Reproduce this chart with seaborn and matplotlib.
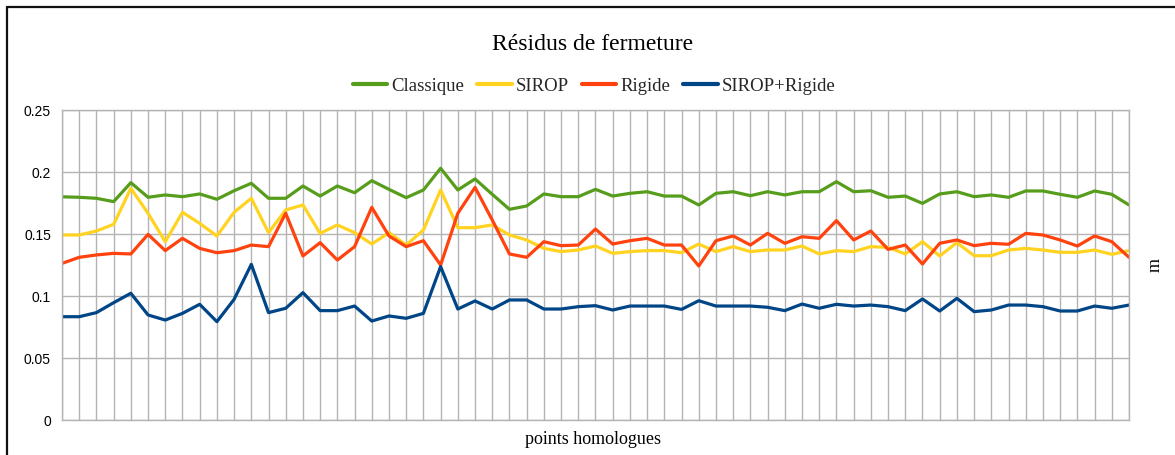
import numpy as np
import pandas as pd
import matplotlib
matplotlib.use("Agg")
import matplotlib.pyplot as plt
from matplotlib.lines import Line2D
import seaborn as sns

# Closure residuals (m) for each homologous point, per adjustment method
classique = [0.1800, 0.1796, 0.1788, 0.1761, 0.1914, 0.1796, 0.1815, 0.1801, 0.1823, 0.1780,
             0.1849, 0.1909, 0.1788, 0.1788, 0.1887, 0.1806, 0.1887, 0.1833, 0.1930, 0.1860,
             0.1793, 0.1855, 0.2030, 0.1855, 0.1944, 0.1820, 0.1699, 0.1726, 0.1823, 0.1801,
             0.1801, 0.1860, 0.1806, 0.1828, 0.1841, 0.1806, 0.1806, 0.1734, 0.1828, 0.1841,
             0.1809, 0.1841, 0.1815, 0.1841, 0.1841, 0.1922, 0.1841, 0.1849, 0.1796, 0.1806,
             0.1747, 0.1823, 0.1841, 0.1801, 0.1815, 0.1796, 0.1847, 0.1847, 0.1820, 0.1796,
             0.1847, 0.1820, 0.1734]
sirop = [0.1492, 0.1492, 0.1524, 0.1578, 0.1868, 0.1667, 0.1438, 0.1675, 0.1586, 0.1484,
         0.1675, 0.1788, 0.1511, 0.1694, 0.1734, 0.1505, 0.1573, 0.1511, 0.1419, 0.1511,
         0.1411, 0.1532, 0.1855, 0.1551, 0.1551, 0.1573, 0.1492, 0.1452, 0.1384, 0.1358,
         0.1371, 0.1403, 0.1344, 0.1358, 0.1366, 0.1366, 0.1349, 0.1419, 0.1358, 0.1398,
         0.1358, 0.1371, 0.1371, 0.1403, 0.1339, 0.1366, 0.1358, 0.1398, 0.1392, 0.1339,
         0.1438, 0.1323, 0.1430, 0.1325, 0.1325, 0.1371, 0.1384, 0.1371, 0.1352, 0.1352,
         0.1371, 0.1336, 0.1366]
rigide = [0.1263, 0.1312, 0.1331, 0.1344, 0.1339, 0.1497, 0.1366, 0.1465, 0.1384, 0.1349,
          0.1366, 0.1411, 0.1398, 0.1667, 0.1323, 0.1430, 0.1290, 0.1398, 0.1715, 0.1484,
          0.1398, 0.1446, 0.1250, 0.1667, 0.1876, 0.1613, 0.1339, 0.1312, 0.1438, 0.1406,
          0.1411, 0.1540, 0.1419, 0.1446, 0.1465, 0.1411, 0.1411, 0.1242, 0.1446, 0.1484,
          0.1411, 0.1505, 0.1425, 0.1478, 0.1465, 0.1608, 0.1452, 0.1524, 0.1376, 0.1411,
          0.1258, 0.1425, 0.1452, 0.1406, 0.1425, 0.1417, 0.1505, 0.1492, 0.1452, 0.1403,
          0.1484, 0.1438, 0.1312]
sirop_rigide = [0.0833, 0.0833, 0.0866, 0.0946, 0.1022, 0.0847, 0.0806, 0.0860, 0.0933, 0.0793,
                0.0973, 0.1255, 0.0866, 0.0901, 0.1027, 0.0882, 0.0882, 0.0919, 0.0798, 0.0839,
                0.0820, 0.0860, 0.1237, 0.0895, 0.0960, 0.0895, 0.0968, 0.0968, 0.0895, 0.0895,
                0.0914, 0.0922, 0.0887, 0.0919, 0.0919, 0.0919, 0.0892, 0.0962, 0.0919, 0.0919,
                0.0919, 0.0909, 0.0882, 0.0935, 0.0901, 0.0933, 0.0919, 0.0927, 0.0914, 0.0882,
                0.0976, 0.0879, 0.0981, 0.0874, 0.0887, 0.0927, 0.0927, 0.0914, 0.0879, 0.0879,
                0.0919, 0.0901, 0.0927]

series_names = ["Classique", "SIROP", "Rigide", "SIROP+Rigide"]
series_values = [classique, sirop, rigide, sirop_rigide]
colors = ["#579d1c", "#ffd320", "#ff420e", "#004586"]
y_ticks = [0, 0.05, 0.1, 0.15, 0.2, 0.25]
y_tick_labels = ["0", "0.05", "0.1", "0.15", "0.2", "0.25"]

n_points = len(classique)
frames = []
for name, vals in zip(series_names, series_values):
    frames.append(pd.DataFrame({"point": np.arange(n_points), "residu": vals, "methode": name}))
df = pd.concat(frames, ignore_index=True)

sns.set_theme(style="white")
plt.rcParams["font.family"] = ["Liberation Serif", "DejaVu Serif"]

fig = plt.figure(figsize=(11.75, 4.55), dpi=100)
ax = fig.add_axes([62 / 1175, 1 - 420 / 455, (1129 - 62) / 1175, (420 - 110) / 455])

sns.lineplot(data=df, x="point", y="residu", hue="methode", hue_order=series_names,
             palette=colors, linewidth=2.3, ax=ax, legend=False, sort=False)

grid_c = "#b3b3b3"
ax.set_xlim(0, n_points - 1)
ax.set_ylim(0, 0.25)
ax.set_xticks(np.arange(n_points))
ax.set_xticklabels([])
ax.set_yticks(y_ticks)
ax.set_yticklabels(y_tick_labels, fontfamily="Liberation Sans", fontsize=10)
ax.grid(True, color=grid_c, linewidth=1.0)
ax.set_axisbelow(True)
for sp in ax.spines.values():
    sp.set_color(grid_c)
    sp.set_linewidth(1.0)
ax.tick_params(axis="both", which="both", direction="out", length=5, width=1.0,
               color=grid_c, pad=3, labelcolor="#000000")
ax.tick_params(axis="x", length=6, pad=0)

ax.set_xlabel("")
ax.set_ylabel("")
fig.text(593 / 1175, 1 - 440 / 455, "points homologues", fontsize=13,
         ha="center", va="center", color="black")
fig.text(1155 / 1175, 1 - 265 / 455, "m", rotation=90, fontsize=13,
         ha="center", va="center", color="black")

fig.text(593 / 1175, 1 - 45 / 455, "Résidus de fermeture", fontsize=17,
         ha="center", va="center", color="black")

handles = [Line2D([0], [0], color=c, linewidth=3) for c in colors]
fig.legend(handles, series_names, loc="center", bbox_to_anchor=(594 / 1175, 1 - 86 / 455),
           ncol=4, frameon=False, fontsize=13.5, handlelength=1.85, handletextpad=0.2,
           columnspacing=0.7, borderaxespad=0)

# dark frame along the top and left edges of the canvas
fig.add_artist(Line2D([7 / 1175, 1.0], [1 - 6.5 / 455, 1 - 6.5 / 455],
                      transform=fig.transFigure, color="#111111", linewidth=1.6))
fig.add_artist(Line2D([7 / 1175, 7 / 1175], [0.0, 1 - 6.5 / 455],
                      transform=fig.transFigure, color="#111111", linewidth=1.6))

fig.savefig("out.png", dpi=100, facecolor="white")
